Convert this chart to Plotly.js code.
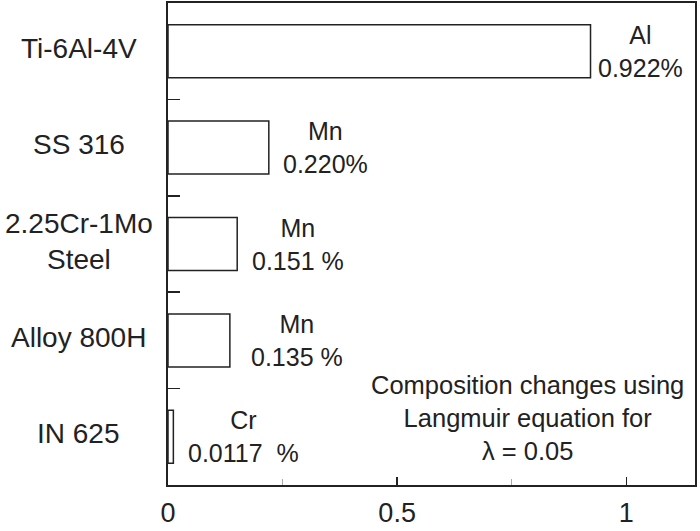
<!DOCTYPE html>
<html>
<head>
<meta charset="utf-8">
<script src="https://cdn.plot.ly/plotly-3.0.1.min.js"></script>
<style>html,body{margin:0;padding:0;background:#fff;}#chart{width:700px;height:531px;}</style>
</head>
<body>
<div id="chart"></div>
<script>
var categories = ["Ti-6Al-4V", "SS 316", "2.25Cr-1Mo<br>Steel", "Alloy 800H", "IN 625"];
var values = [0.922, 0.220, 0.151, 0.135, 0.0117];
var elements = ["Al", "Mn", "Mn", "Mn", "Cr"];
var valueLabels = ["0.922%", "0.220%", "0.151 %", "0.135 %", "0.0117  %"];
var labelX = [1.03, 0.344, 0.283, 0.281, 0.164];
var xTickVals = [0, 0.5, 1];
var xTickText = ["0", "0.5", "1"];
var noteText = "Composition changes using<br>Langmuir equation for<br>\u03bb = 0.05";

var font = "Liberation Sans, Arial, sans-serif";
var txtColor = "#222";

var trace = {
  type: "bar",
  orientation: "h",
  y: categories,
  x: values,
  width: 0.55,
  marker: {color: "#ffffff", line: {color: "#222", width: 1.5}},
  hoverinfo: "x+y"
};

var annotations = [];
for (var i = 0; i < categories.length; i++) {
  annotations.push({
    xref: "paper", yref: "y", x: -0.169, y: categories[i], yshift: 3,
    text: categories[i], showarrow: false, xanchor: "center", yanchor: "middle",
    align: "center", font: {family: font, size: 28, color: txtColor}
  });
  annotations.push({
    xref: "x", yref: "y", x: labelX[i], y: categories[i],
    text: elements[i] + "<br>" + valueLabels[i], showarrow: false,
    xanchor: "center", yanchor: "middle", align: "center",
    font: {family: font, size: 25, color: txtColor}
  });
}
annotations.push({
  xref: "paper", yref: "paper", x: 0.683, y: 0.14,
  text: noteText, showarrow: false, xanchor: "center", yanchor: "middle",
  align: "center", font: {family: font, size: 25.5, color: txtColor}
});

var layout = {
  width: 700, height: 531,
  margin: {l: 168, r: 5, t: 3, b: 46},
  paper_bgcolor: "#fff", plot_bgcolor: "#fff",
  showlegend: false,
  bargap: 0.45,
  xaxis: {
    range: [0, 1.15],
    tickvals: xTickVals, ticktext: xTickText,
    ticks: "inside", ticklen: 8, tickwidth: 1.5, tickcolor: "#222",
    minor: {tickvals: [0.25, 0.75], ticks: "inside", ticklen: 6, tickwidth: 1, tickcolor: "#aaa"},
    showgrid: false, zeroline: false,
    showline: true, linecolor: "#222", linewidth: 2, mirror: true,
    ticklabelstandoff: 3,
    tickfont: {family: font, size: 27, color: txtColor}
  },
  yaxis: {
    type: "category",
    categoryorder: "array", categoryarray: categories,
    range: [4.5, -0.5],
    tickson: "boundaries",
    ticks: "inside", ticklen: 12, tickwidth: 1.5, tickcolor: "#222",
    showticklabels: false,
    showgrid: false, zeroline: false,
    showline: true, linecolor: "#222", linewidth: 2, mirror: true
  },
  annotations: annotations
};

Plotly.newPlot("chart", [trace], layout, {displayModeBar: false, staticPlot: true});
</script>
</body>
</html>
